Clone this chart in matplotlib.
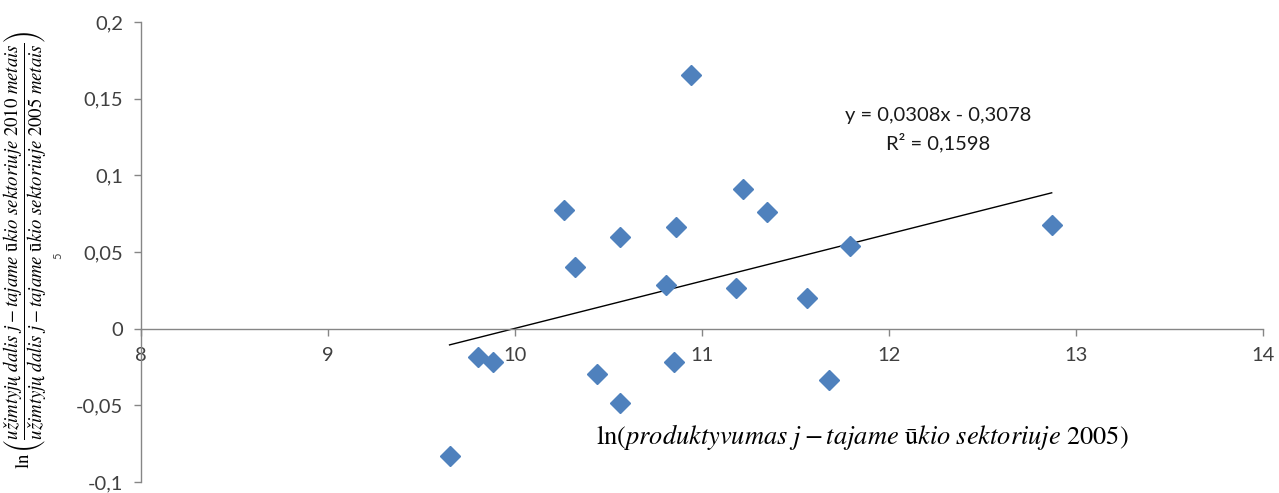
import numpy as np
import matplotlib.pyplot as plt
from matplotlib.ticker import FuncFormatter

plt.rcParams['font.family'] = ['Lato', 'DejaVu Sans']
plt.rcParams['mathtext.fontset'] = 'stix'

# data
x_vals = [9.65, 9.80, 9.88, 10.26, 10.32, 10.44, 10.56, 10.56, 10.81, 10.85,
          10.86, 10.94, 11.18, 11.22, 11.35, 11.56, 11.68, 11.79, 12.87]
y_vals = [-0.0828, -0.0183, -0.0215, 0.0776, 0.0404, -0.0294, 0.0600, -0.0483, 0.0287, -0.0215,
          0.0665, 0.1657, 0.0267, 0.0913, 0.0763, 0.0202, -0.0333, 0.0541, 0.0678]
slope = 0.0308
intercept = -0.3078
r2 = 0.1598
x_ticks = [8, 9, 10, 11, 12, 13, 14]
y_ticks = [-0.1, -0.05, 0, 0.05, 0.1, 0.15, 0.2]

fig = plt.figure(figsize=(12.79, 4.93), dpi=100)
ax = fig.add_axes([141/1279, 1-482/493, (1263-141)/1279, (482-22)/493])

ax.plot(x_vals, y_vals, linestyle='none', marker='D', ms=10, color='#4F81BD',
        markeredgecolor='#4F81BD', zorder=3)

xs = np.array([min(x_vals), max(x_vals)])
ax.plot(xs, slope*xs + intercept, color='black', lw=1, zorder=2)

ax.set_xlim(8, 14)
ax.set_ylim(-0.1, 0.2)
ax.set_xticks(x_ticks)
ax.set_yticks(y_ticks)

def comma(v, pos):
    s = ('%g' % v).replace('.', ',')
    return s
ax.xaxis.set_major_formatter(FuncFormatter(comma))
ax.yaxis.set_major_formatter(FuncFormatter(comma))

ax.spines['top'].set_visible(False)
ax.spines['right'].set_visible(False)
ax.spines['bottom'].set_position(('data', 0))
for s in ['left', 'bottom']:
    ax.spines[s].set_color('#868686')
    ax.spines[s].set_linewidth(1)
ax.tick_params(axis='both', colors='#868686', length=5, width=1, direction='out',
               labelsize=14.5, labelcolor='#404040')
ax.tick_params(axis='x', pad=8)
ax.tick_params(axis='y', pad=8)

ax.text(938/1279, 1-115/493, 'y = 0,0308x - 0,3078', transform=fig.transFigure,
        ha='center', va='center', fontsize=14.5, color='#1a1a1a')
ax.text(938/1279, 1-143/493, 'R² = 0,1598', transform=fig.transFigure,
        ha='center', va='center', fontsize=14.5, color='#1a1a1a')

fig.text(862/1279, 1-437/493,
         r'$\ln(produktyvumas\ j-tajame\ \mathrm{ū}kio\ sektoriuje\ \mathrm{2005})$',
         ha='center', va='center', fontsize=19)

fig.text(25/1279, 1-250/493,
         r'$\ln\left(\dfrac{užimtyjų\ dalis\ j-tajame\ \mathrm{ū}kio\ sektoriuje\ \mathrm{2010}\ metais}'
         r'{užimtyjų\ dalis\ j-tajame\ \mathrm{ū}kio\ sektoriuje\ \mathrm{2005}\ metais}\right)$',
         rotation=90, ha='center', va='center', fontsize=13.5)
fig.text(58/1279, 1-256/493, '5', rotation=90, ha='center', va='center', fontsize=8, color='#404040')

fig.savefig('out.png', dpi=100)
